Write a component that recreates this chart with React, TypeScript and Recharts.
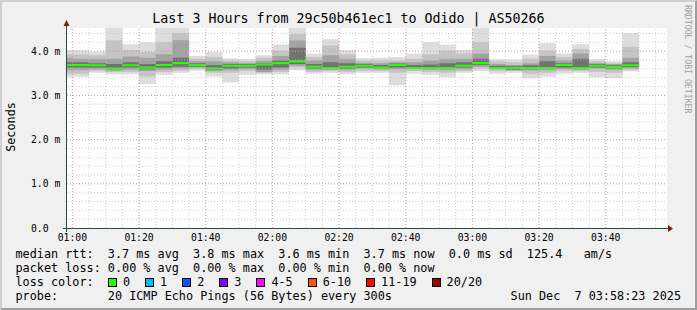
import React from 'react';
import { ComposedChart, Area, XAxis, YAxis, ReferenceLine } from 'recharts';

// 5 minute bins (start time of each bin)
const binTimes = [
  '00:55', '01:00', '01:05', '01:10', '01:15', '01:20', '01:25', '01:30', '01:35', '01:40',
  '01:45', '01:50', '01:55', '02:00', '02:05', '02:10', '02:15', '02:20', '02:25', '02:30',
  '02:35', '02:40', '02:45', '02:50', '02:55', '03:00', '03:05', '03:10', '03:15', '03:20',
  '03:25', '03:30', '03:35', '03:40', '03:45',
];
const lastBinEnd = '03:50';
const viewStart = '00:58:23';
const viewEnd = '03:58:23';

// rtt in ms
const median = [
  3.69, 3.69, 3.68, 3.61, 3.68, 3.63, 3.69, 3.73, 3.69, 3.61,
  3.67, 3.67, 3.70, 3.73, 3.77, 3.65, 3.62, 3.65, 3.67, 3.63,
  3.69, 3.62, 3.62, 3.62, 3.67, 3.73, 3.62, 3.62, 3.62, 3.62,
  3.69, 3.62, 3.67, 3.64, 3.68,
];
// smoke: outer band (min..max)
const pingMin = [
  3.42, 3.42, 3.51, 3.48, 3.48, 3.26, 3.47, 3.51, 3.56, 3.43,
  3.29, 3.47, 3.48, 3.48, 3.57, 3.49, 3.51, 3.48, 3.51, 3.51,
  3.23, 3.49, 3.47, 3.41, 3.51, 3.55, 3.49, 3.51, 3.39, 3.42,
  3.49, 3.51, 3.41, 3.39, 3.54,
];
const pingMax = [
  4.02, 4.02, 3.99, 4.53, 4.16, 4.20, 4.53, 4.53, 3.89, 3.98,
  3.84, 3.82, 3.91, 4.15, 4.53, 3.95, 4.27, 4.03, 3.84, 3.85,
  3.87, 3.95, 4.20, 4.15, 4.03, 4.53, 3.82, 3.81, 3.92, 4.18,
  3.95, 4.16, 3.82, 3.77, 4.41,
];
const band2Lo = [
  3.49, 3.49, 3.55, 3.53, 3.53, 3.43, 3.53, 3.56, 3.60, 3.51,
  3.51, 3.55, 3.51, 3.53, 3.63, 3.53, 3.55, 3.53, 3.56, 3.55,
  3.51, 3.55, 3.53, 3.51, 3.55, 3.61, 3.55, 3.55, 3.49, 3.51,
  3.55, 3.55, 3.53, 3.51, 3.58,
];
const band2Hi = [
  3.93, 3.93, 3.91, 4.25, 4.03, 3.98, 4.20, 4.41, 3.83, 3.87,
  3.79, 3.77, 3.85, 4.01, 4.39, 3.87, 4.13, 3.93, 3.79, 3.79,
  3.79, 3.83, 3.93, 4.01, 3.95, 4.20, 3.77, 3.75, 3.83, 4.01,
  3.87, 4.05, 3.77, 3.73, 4.10,
];
const band3Lo = [
  3.57, 3.57, 3.59, 3.56, 3.58, 3.55, 3.58, 3.61, 3.63, 3.55,
  3.57, 3.60, 3.53, 3.58, 3.67, 3.58, 3.58, 3.58, 3.61, 3.59,
  3.59, 3.59, 3.58, 3.57, 3.59, 3.65, 3.59, 3.57, 3.57, 3.57,
  3.60, 3.58, 3.61, 3.58, 3.61,
];
const band3Hi = [
  3.85, 3.83, 3.83, 3.83, 3.88, 3.85, 3.93, 4.25, 3.77, 3.77,
  3.75, 3.73, 3.78, 3.89, 4.24, 3.79, 3.91, 3.83, 3.74, 3.73,
  3.75, 3.75, 3.79, 3.83, 3.83, 3.95, 3.71, 3.69, 3.73, 3.89,
  3.79, 3.95, 3.73, 3.71, 3.85,
];
const band4Lo = [
  3.63, 3.63, 3.63, 3.59, 3.63, 3.59, 3.63, 3.65, 3.65, 3.58,
  3.61, 3.63, 3.58, 3.63, 3.71, 3.61, 3.60, 3.61, 3.63, 3.61,
  3.63, 3.60, 3.60, 3.60, 3.63, 3.69, 3.60, 3.58, 3.59, 3.60,
  3.63, 3.60, 3.63, 3.61, 3.64,
];
const band4Hi = [
  3.75, 3.75, 3.73, 3.71, 3.75, 3.71, 3.77, 3.85, 3.73, 3.69,
  3.71, 3.71, 3.73, 3.79, 4.08, 3.71, 3.75, 3.73, 3.71, 3.69,
  3.72, 3.69, 3.70, 3.73, 3.75, 3.83, 3.67, 3.66, 3.68, 3.77,
  3.73, 3.83, 3.71, 3.68, 3.75,
];

const xLabels = ['01:00', '01:20', '01:40', '02:00', '02:20', '02:40', '03:00', '03:20', '03:40'];
const yLabelValues = [0, 1, 2, 3, 4];
const yLabels = ['0.0', '1.0 m', '2.0 m', '3.0 m', '4.0 m'];

const title = 'Last 3 Hours from 29c50b461ec1 to Odido | AS50266';
const legendLines = [
  'median rtt:  3.7 ms avg  3.8 ms max  3.6 ms min  3.7 ms now  0.0 ms sd  125.4   am/s',
  'packet loss: 0.00 % avg  0.00 % max  0.00 % min  0.00 % now',
];
const lossLabels = ['0', '1', '2', '3', '4-5', '6-10', '11-19', '20/20'];
const lossColors = ['#26ff00', '#00b8ff', '#0059ff', '#7e00ff', '#ff00ff', '#ff5500', '#ff0000', '#a10000'];
const probeText = 'probe:       20 ICMP Echo Pings (56 Bytes) every 300s';
const dateText = 'Sun Dec  7 03:58:23 2025';

const toMin = (s: string) => {
  const p = s.split(':').map(Number);
  return p[0] * 60 + p[1] + (p[2] || 0) / 60;
};

const MED_HALF = 0.023;
const rows = binTimes.map((t, i) => ({
  t: toMin(t),
  s1: [pingMin[i], pingMax[i]],
  s2: [band2Lo[i], band2Hi[i]],
  s3: [band3Lo[i], band3Hi[i]],
  s4: [band4Lo[i], band4Hi[i]],
  med: [median[i] - MED_HALF, median[i] + MED_HALF],
}));
rows.push({ ...rows[rows.length - 1], t: toMin(lastBinEnd) });

const xTicks: number[] = [];
for (let m = 60; m <= 235; m += 5) xTicks.push(m);
const yTicks: number[] = [];
for (let i = 0; i <= 22; i++) yTicks.push(i / 5);

const MONO = "'DejaVu Sans Mono', monospace";
const W = 697;
const H = 310;
const PLOT = { left: 67, top: 28, right: 667, bottom: 228 };
const MINOR = { stroke: '#bdbdbd', strokeOpacity: 0.75, strokeDasharray: '1 2' };
const MAJOR = { stroke: '#e57c7c', strokeOpacity: 0.6, strokeDasharray: '1 2' };

const XTick = ({ x, payload }: any) => {
  const label = xLabels.find((l) => toMin(l) === payload.value);
  if (!label) return null;
  return (
    <text x={x} y={237.5} textAnchor="middle" dominantBaseline="central" fontFamily={MONO} fontSize={9.75} fill="#000">
      {label}
    </text>
  );
};

const YTick = ({ y, payload }: any) => {
  const idx = yLabelValues.indexOf(payload.value);
  if (idx < 0) return null;
  return (
    <text x={31} y={y} textAnchor="start" dominantBaseline="central" fontFamily={MONO} fontSize={9.75} fill="#000">
      {yLabels[idx]}
    </text>
  );
};

const smoke = [
  { key: 's1', color: '#dddddd' },
  { key: 's2', color: '#c4c4c4' },
  { key: 's3', color: '#a2a2a2' },
  { key: 's4', color: '#727272' },
];

export default function App() {
  let lx = 108;
  const lossItems = lossLabels.map((l, i) => {
    const item = { x: lx, label: l, color: lossColors[i] };
    lx += 30 + l.length * 7.1;
    return item;
  });

  return (
    <div style={{ position: 'absolute', left: 0, top: 0, width: W, height: H, background: '#f0f0f0', overflow: 'hidden' }}>
      <div
        style={{
          position: 'absolute',
          left: PLOT.left,
          top: PLOT.top,
          width: PLOT.right - PLOT.left,
          height: PLOT.bottom - PLOT.top,
          background: '#ffffff',
        }}
      />
      <div style={{ position: 'absolute', left: 0, top: 0 }}>
        <ComposedChart
          width={W}
          height={H}
          data={rows}
          margin={{ top: PLOT.top, right: W - PLOT.right, left: 0, bottom: 0 }}
        >
          <XAxis
            dataKey="t"
            type="number"
            domain={[toMin(viewStart), toMin(viewEnd)]}
            allowDataOverflow
            ticks={xTicks}
            interval={0}
            tick={<XTick />}
            tickLine={false}
            axisLine={false}
            height={H - PLOT.bottom}
          />
          <YAxis
            type="number"
            domain={[0, 4.525]}
            allowDataOverflow
            ticks={yTicks}
            interval={0}
            tick={<YTick />}
            tickLine={false}
            axisLine={false}
            width={PLOT.left}
          />
          {smoke.map((s) => (
            <Area
              key={s.key}
              dataKey={s.key}
              type="stepAfter"
              stroke="none"
              fill={s.color}
              fillOpacity={1}
              dot={false}
              activeDot={false}
              isAnimationActive={false}
            />
          ))}
          <Area
            dataKey="med"
            type="stepAfter"
            stroke="none"
            fill="#26ff00"
            fillOpacity={1}
            dot={false}
            activeDot={false}
            isAnimationActive={false}
          />
          {yTicks.slice(1).map((v) => (
            <ReferenceLine key={'gy' + v} y={v} {...MINOR} />
          ))}
          {xTicks.map((v) => (
            <ReferenceLine key={'gx' + v} x={v} {...MINOR} />
          ))}
          {yLabelValues.slice(1).map((v) => (
            <ReferenceLine key={'y' + v} y={v} {...MAJOR} />
          ))}
          {xLabels.map((l) => (
            <ReferenceLine key={'x' + l} x={toMin(l)} {...MAJOR} />
          ))}
        </ComposedChart>
      </div>

      <svg width={W} height={H} style={{ position: 'absolute', left: 0, top: 0, pointerEvents: 'none' }}>
        <line x1={63} y1={228.5} x2={669} y2={228.5} stroke="#2c4d43" strokeWidth={1} />
        <line x1={66.5} y1={232} x2={66.5} y2={22} stroke="#2c4d43" strokeWidth={1} />
        <polygon points="668,225 673,228.5 668,232" fill="#7f1f00" />
        <polygon points="63.5,26 66.5,20 69.5,26" fill="#7f1f00" />
        <text
          transform="translate(11,127) rotate(-90)"
          textAnchor="middle"
          dominantBaseline="central"
          fontFamily={MONO}
          fontSize={11.8}
          fill="#000"
        >
          Seconds
        </text>
        <text
          transform="translate(688,5) rotate(90)"
          textAnchor="start"
          dominantBaseline="central"
          fontFamily={MONO}
          fontSize={8.2}
          fill="#a0a0a0"
        >
          RRDTOOL / TOBI OETIKER
        </text>
      </svg>

      <div
        style={{
          position: 'absolute',
          left: 0,
          top: 11,
          width: W,
          textAlign: 'center',
          fontFamily: MONO,
          fontSize: 13.3,
          lineHeight: '16px',
          whiteSpace: 'pre',
          color: '#000',
        }}
      >
        {title}
      </div>

      <div
        style={{
          position: 'absolute',
          left: 15.5,
          top: 247.3,
          fontFamily: MONO,
          fontSize: 11.8,
          lineHeight: '14px',
          whiteSpace: 'pre',
          color: '#000',
        }}
      >
        {legendLines.map((l) => (
          <div key={l}>{l}</div>
        ))}
        <div>loss color:</div>
        <div>{probeText}</div>
      </div>

      {lossItems.map((it) => (
        <React.Fragment key={it.label}>
          <div
            style={{
              position: 'absolute',
              left: it.x,
              top: 277.5,
              width: 7,
              height: 7,
              background: it.color,
              border: '1px solid #000',
            }}
          />
          <div
            style={{
              position: 'absolute',
              left: it.x + 15,
              top: 275.3,
              fontFamily: MONO,
              fontSize: 11.8,
              lineHeight: '14px',
              whiteSpace: 'pre',
              color: '#000',
            }}
          >
            {it.label}
          </div>
        </React.Fragment>
      ))}

      <div
        style={{
          position: 'absolute',
          right: 16,
          top: 289.3,
          fontFamily: MONO,
          fontSize: 11.8,
          lineHeight: '14px',
          whiteSpace: 'pre',
          color: '#000',
        }}
      >
        {dateText}
      </div>

      <div
        style={{
          position: 'absolute',
          left: 0,
          top: 0,
          width: W,
          height: H,
          boxSizing: 'border-box',
          borderTop: '2px solid #cfcfcf',
          borderLeft: '2px solid #cfcfcf',
          borderRight: '2px solid #9e9e9e',
          borderBottom: '2px solid #9e9e9e',
          pointerEvents: 'none',
        }}
      />
    </div>
  );
}
